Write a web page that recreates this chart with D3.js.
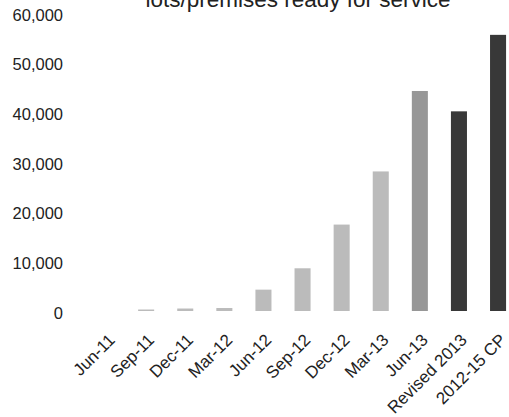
<!DOCTYPE html>
<html>
<head>
<meta charset="utf-8">
<script src="https://cdn.jsdelivr.net/npm/d3@7"></script>
<style>
  body { margin: 0; background: #fff; }
  text { font-family: "Liberation Sans", Arial, Helvetica, sans-serif; fill: #222; }
</style>
</head>
<body>
<svg id="chart"></svg>
<script>
// Data
const categories = ['Jun-11', 'Sep-11', 'Dec-11', 'Mar-12', 'Jun-12', 'Sep-12', 'Dec-12', 'Mar-13', 'Jun-13', 'Revised 2013', '2012-15 CP'];
const values = [0, 300, 500, 600, 4300, 8600, 17400, 28100, 44300, 40200, 55600];
const barColors = ['#bbbbbb', '#bbbbbb', '#bbbbbb', '#bbbbbb', '#bbbbbb', '#bbbbbb', '#bbbbbb', '#bbbbbb', '#979797', '#383838', '#383838'];
const yTicks = [0, 10000, 20000, 30000, 40000, 50000, 60000];
const title = 'lots/premises ready for service';

const width = 509, height = 417;

const svg = d3.select('#chart')
    .attr('width', width)
    .attr('height', height);

// Scales
const x = d3.scaleBand()
    .domain(categories)
    .range([87.5, 87.5 + categories.length * 39.1])
    .paddingInner(0.59)
    .paddingOuter(0.295);

const y = d3.scaleLinear()
    .domain([0, 60000])
    .range([311, 13]);

// Title (top line cut off by the frame)
svg.append('text')
    .attr('x', 298)
    .attr('y', 7)
    .attr('text-anchor', 'middle')
    .attr('font-size', 22.5)
    .text(title);

// Y axis labels
const yAxis = svg.append('g')
    .attr('transform', 'translate(63, 2)')
    .call(d3.axisLeft(y).tickValues(yTicks).tickSize(0).tickPadding(0).tickFormat(d3.format(',')));
yAxis.select('.domain').remove();
yAxis.selectAll('text')
    .attr('font-size', 16.5)
    .attr('font-family', '"Liberation Sans", Arial, sans-serif')
    .attr('fill', '#222');

// Bars
svg.append('g')
    .selectAll('rect')
    .data(values)
    .join('rect')
    .attr('x', (d, i) => x(categories[i]))
    .attr('y', d => y(d))
    .attr('width', x.bandwidth())
    .attr('height', d => y(0) - y(d))
    .attr('fill', (d, i) => barColors[i]);

// X labels rotated
svg.append('g')
    .selectAll('text')
    .data(categories)
    .join('text')
    .attr('transform', d => `translate(${x(d) + x.bandwidth() / 2 + 9}, 341) rotate(-45)`)
    .attr('text-anchor', 'end')
    .attr('font-size', 17)
    .text(d => d);
</script>
</body>
</html>
